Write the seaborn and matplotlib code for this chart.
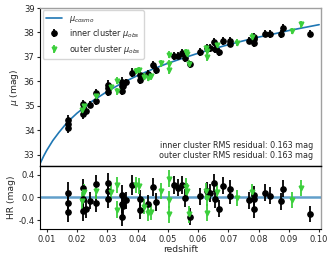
import numpy as np
import matplotlib
matplotlib.use("Agg")
import matplotlib.pyplot as plt
import seaborn as sns

sns.set_style("white")
plt.rcParams["font.family"] = ["DejaVu Sans"]
plt.rcParams["mathtext.fontset"] = "dejavusans"

# model distance modulus
curve_z = [0.0078, 0.008, 0.009, 0.010, 0.011, 0.012, 0.014, 0.016, 0.018, 0.020,
           0.025, 0.030, 0.035, 0.040, 0.045, 0.050, 0.055, 0.060, 0.065,
           0.070, 0.075, 0.080, 0.085, 0.090, 0.095, 0.100]
curve_mu = [32.63, 32.69, 32.95, 33.18, 33.38, 33.58, 33.91, 34.21, 34.47, 34.70,
            35.19, 35.59, 35.94, 36.24, 36.50, 36.74, 36.95, 37.15, 37.33,
            37.50, 37.66, 37.81, 37.94, 38.08, 38.20, 38.32]

# inner cluster: redshift, Hubble residual, error
z_in = [0.0170, 0.0170, 0.0170, 0.0220, 0.0220, 0.0220, 0.0229, 0.0242, 0.0262, 0.0262,
        0.0303, 0.0303, 0.0303, 0.0350, 0.0350, 0.0352, 0.0350, 0.0361, 0.0383, 0.0407,
        0.0407, 0.0434, 0.0451, 0.0462, 0.0519, 0.0533, 0.0547, 0.0556, 0.0573, 0.0607,
        0.0630, 0.0639, 0.0652, 0.0657, 0.0670, 0.0681, 0.0704, 0.0704, 0.0767, 0.0784,
        0.0785, 0.0786, 0.0822, 0.0837, 0.0873, 0.0881, 0.0970]
hr_in = [0.08, -0.09, -0.25, 0.16, -0.02, -0.24, -0.20, -0.06, 0.24, -0.10,
         0.26, 0.11, -0.03, 0.05, -0.11, -0.15, -0.34, -0.05, 0.22, -0.03,
         -0.22, -0.12, 0.18, -0.08, 0.22, 0.17, 0.22, -0.01, -0.34, 0.02,
         0.12, 0.08, 0.26, -0.03, -0.20, 0.21, 0.15, 0.03, -0.05, 0.05,
         -0.03, -0.20, 0.08, 0.03, -0.07, 0.15, -0.29]
err_in = [0.19, 0.18, 0.19, 0.17, 0.17, 0.18, 0.17, 0.15, 0.16, 0.15,
          0.17, 0.16, 0.16, 0.17, 0.17, 0.16, 0.17, 0.15, 0.17, 0.16,
          0.16, 0.16, 0.16, 0.16, 0.16, 0.15, 0.16, 0.16, 0.15, 0.15,
          0.16, 0.16, 0.16, 0.16, 0.15, 0.15, 0.16, 0.15, 0.15, 0.15,
          0.16, 0.16, 0.15, 0.15, 0.15, 0.15, 0.14]

# outer cluster
z_out = [0.0222, 0.0218, 0.0263, 0.0311, 0.0332, 0.0332, 0.0394, 0.0405, 0.0423, 0.0434,
         0.0443, 0.0478, 0.0505, 0.0505, 0.0505, 0.0561, 0.0565, 0.0569, 0.0626, 0.0628,
         0.0628, 0.0662, 0.0727, 0.0778, 0.0912, 0.0939]
hr_out = [0.09, -0.06, 0.12, 0.10, 0.22, -0.22, 0.22, 0.20, -0.16, -0.27,
          -0.26, 0.11, 0.33, -0.04, -0.30, 0.19, 0.12, -0.30, 0.11, -0.01,
          -0.27, 0.10, -0.01, 0.09, -0.05, 0.17]
err_out = [0.15, 0.15, 0.14, 0.14, 0.14, 0.15, 0.14, 0.14, 0.14, 0.14,
           0.14, 0.14, 0.15, 0.15, 0.15, 0.15, 0.14, 0.15, 0.15, 0.14,
           0.15, 0.14, 0.14, 0.14, 0.14, 0.14]

rms_in = 0.163
rms_out = 0.163

# observed distance modulus = model + residual
mu_in = np.interp(z_in, curve_z, curve_mu) + np.array(hr_in)
mu_out = np.interp(z_out, curve_z, curve_mu) + np.array(hr_out)

fig = plt.figure(figsize=(3.34, 2.59), dpi=100)
ax = fig.add_axes([0.12, 0.360, 0.84, 0.609])
axr = fig.add_axes([0.12, 0.115, 0.84, 0.245], sharex=ax)

green = "#3ccf3c"
kw_in = dict(fmt="o", color="black", ms=3.8, elinewidth=1.3, capsize=0)
kw_out = dict(fmt="v", color=green, ms=3.4, elinewidth=1.3, capsize=0)

# ---------- top panel: Hubble diagram ----------
sns.lineplot(x=curve_z, y=curve_mu, ax=ax, color="#1f77b4", lw=1.2,
             label=r"$\mu_{cosmo}$", zorder=1)
ax.errorbar(z_in, mu_in, yerr=err_in, label=r"inner cluster $\mu_{obs}$", **kw_in)
ax.errorbar(z_out, mu_out, yerr=err_out, label=r"outer cluster $\mu_{obs}$", **kw_out)
ax.set_ylim(32.55, 39)
ax.set_yticks(range(33, 40))
ax.set_ylabel(r"$\mu$ (mag)", fontsize=6.6, labelpad=2)
ax.tick_params(axis="both", labelsize=6, length=2.5, pad=1.5, left=True, bottom=True)
plt.setp(ax.get_xticklabels(), visible=False)
ax.legend(loc="upper left", fontsize=5.9, frameon=True, borderpad=0.4,
          handlelength=2.0, labelspacing=0.3, borderaxespad=0.3)
ax.text(0.973, 0.131, f"inner cluster RMS residual: {rms_in:.3f} mag",
        transform=ax.transAxes, ha="right", va="center", fontsize=5.8)
ax.text(0.973, 0.068, f"outer cluster RMS residual: {rms_out:.3f} mag",
        transform=ax.transAxes, ha="right", va="center", fontsize=5.8)

# ---------- bottom panel: residuals ----------
axr.axhline(0, color="#1f77b4", lw=1.8, alpha=0.7, zorder=1)
axr.errorbar(z_in, hr_in, yerr=err_in, **kw_in)
axr.errorbar(z_out, hr_out, yerr=err_out, **kw_out)
axr.set_ylim(-0.56, 0.56)
axr.set_yticks([-0.4, 0.0, 0.4])
axr.set_xlim(0.0078, 0.1005)
axr.set_xticks(np.arange(1, 11) / 100)
axr.xaxis.set_major_formatter(matplotlib.ticker.FormatStrFormatter("%.2f"))
axr.yaxis.set_major_formatter(matplotlib.ticker.FormatStrFormatter("%.1f"))
axr.set_xlabel("redshift", fontsize=6.6, labelpad=1)
axr.set_ylabel("HR (mag)", fontsize=6.6, labelpad=2)
axr.tick_params(axis="both", labelsize=6, length=2.5, pad=1.5, left=True, bottom=True)

# dark left/bottom spines, light grey top/right ones as in the original
for a in (ax, axr):
    for name, s in a.spines.items():
        if name in ("top", "right"):
            s.set_color("#a0a0a0")
            s.set_linewidth(1.0)
        else:
            s.set_color("black")
            s.set_linewidth(0.8)
ax.spines["bottom"].set_color("black")
axr.spines["top"].set_color("black")

fig.savefig("out.png", dpi=100)
plt.close()
